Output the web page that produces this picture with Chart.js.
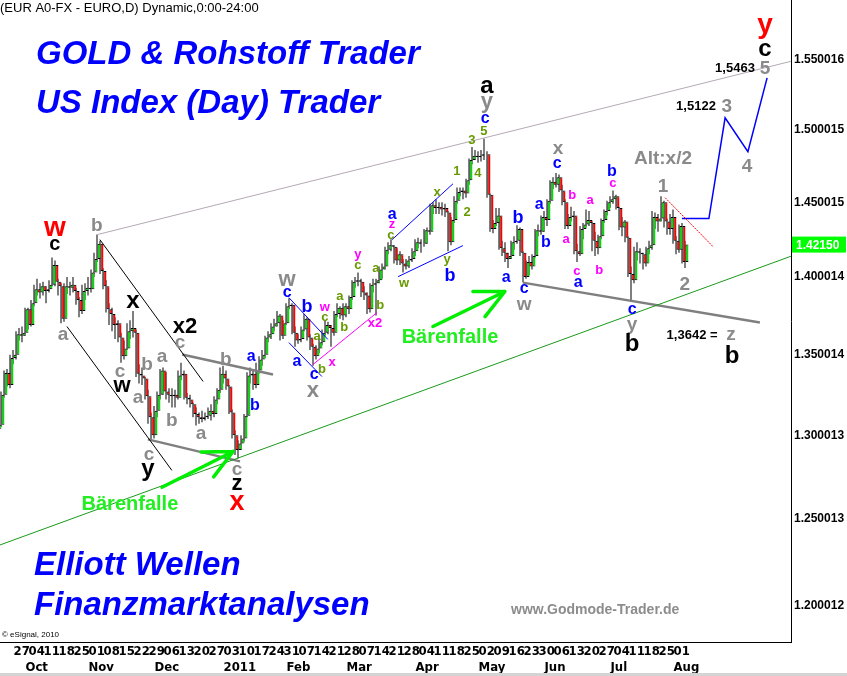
<!DOCTYPE html>
<html>
<head>
<meta charset="utf-8">
<script src="https://cdn.jsdelivr.net/npm/chart.js@4.4.0/dist/chart.umd.min.js"></script>
<style>
  html, body { margin: 0; padding: 0; background: #fff; overflow: hidden; }
</style>
</head>
<body>
<canvas id="chart" width="847" height="676"></canvas>
<script>
// EUR/USD daily candles, 20 Sep 2010 .. 5 Aug 2011 (bar index -5 .. 224, 0 = 27 Sep 2010)
const opens = [
  1.3040,1.3065,1.3250,1.3385,1.3310,1.3480,1.3500,1.3630,1.3620,1.3640,
  1.3790,1.3690,1.3830,1.3920,1.3900,1.3940,1.3910,1.3920,1.3950,1.4080,
  1.3970,1.3940,1.3730,1.3940,1.3930,1.3950,1.3910,1.3850,1.3780,1.3910,
  1.3930,1.3920,1.4030,1.4120,1.4220,1.4040,1.3940,1.3790,1.3760,1.3690,
  1.3700,1.3610,1.3490,1.3540,1.3650,1.3670,1.3640,1.3380,1.3370,1.3350,
  1.3240,1.3110,1.3000,1.3150,1.3250,1.3400,1.3270,1.3250,1.3240,1.3250,
  1.3230,1.3370,1.3380,1.3230,1.3220,1.3190,1.3130,1.3110,1.3100,1.3110,
  1.3120,1.3150,1.3130,1.3220,1.3280,1.3380,1.3350,1.3300,1.3140,1.3000,
  1.2910,1.2950,1.2980,1.3120,1.3370,1.3380,1.3310,1.3400,1.3470,1.3500,
  1.3610,1.3630,1.3680,1.3700,1.3750,1.3620,1.3700,1.3810,1.3820,1.3640,
  1.3590,1.3600,1.3660,1.3730,1.3610,1.3550,1.3490,1.3540,1.3580,1.3640,
  1.3690,1.3670,1.3640,1.3760,1.3800,1.3750,1.3810,1.3790,1.3870,1.3970,
  1.3980,1.3970,1.3900,1.3880,1.3790,1.3950,1.3960,1.3980,1.4050,1.4070,
  1.4180,1.4210,1.4200,1.4110,1.4150,1.4090,1.4070,1.4110,1.4120,1.4170,
  1.4230,1.4220,1.4220,1.4310,1.4300,1.4480,1.4460,1.4470,1.4450,1.4460,
  1.4430,1.4230,1.4380,1.4510,1.4570,1.4580,1.4560,1.4650,1.4790,1.4820,
  1.4810,1.4820,1.4830,1.4830,1.4550,1.4320,1.4360,1.4410,1.4190,1.4160,
  1.4120,1.4140,1.4230,1.4240,1.4320,1.4160,1.4000,1.4100,1.4070,1.4140,
  1.4310,1.4300,1.4400,1.4380,1.4510,1.4640,1.4620,1.4670,1.4580,1.4500,
  1.4340,1.4400,1.4410,1.4170,1.4150,1.4320,1.4350,1.4380,1.4360,1.4240,
  1.4190,1.4270,1.4380,1.4440,1.4500,1.4520,1.4540,1.4460,1.4330,1.4370,
  1.4260,1.4020,1.3980,1.4170,1.4160,1.4150,1.4090,1.4190,1.4210,1.4400,
  1.4370,1.4390,1.4500,1.4370,1.4320,1.4400,1.4240,1.4180,1.4340,1.4100
];
const highs = [
  1.3090,1.3270,1.3400,1.3410,1.3500,1.3530,1.3650,1.3670,1.3680,1.3800,
  1.3800,1.3850,1.3950,1.3990,1.3960,1.3970,1.3940,1.3980,1.4130,1.4110,
  1.3990,1.3960,1.3960,1.4000,1.3970,1.4000,1.3930,1.3870,1.3950,1.3960,
  1.4000,1.4050,1.4160,1.4282,1.4240,1.4060,1.3980,1.3830,1.3800,1.3740,
  1.3720,1.3640,1.3590,1.3700,1.3720,1.3780,1.3660,1.3440,1.3420,1.3360,
  1.3280,1.3140,1.3180,1.3270,1.3410,1.3420,1.3390,1.3290,1.3290,1.3280,
  1.3400,1.3450,1.3400,1.3260,1.3250,1.3200,1.3170,1.3140,1.3150,1.3140,
  1.3170,1.3190,1.3240,1.3290,1.3420,1.3430,1.3400,1.3310,1.3160,1.3030,
  1.2970,1.3000,1.3130,1.3390,1.3420,1.3400,1.3450,1.3490,1.3530,1.3620,
  1.3650,1.3700,1.3730,1.3780,1.3760,1.3720,1.3830,1.3862,1.3830,1.3680,
  1.3630,1.3680,1.3760,1.3740,1.3630,1.3570,1.3560,1.3600,1.3660,1.3720,
  1.3710,1.3690,1.3780,1.3830,1.3810,1.3830,1.3830,1.3880,1.3980,1.4000,
  1.4030,1.3990,1.3940,1.3900,1.3960,1.3990,1.3990,1.4070,1.4090,1.4200,
  1.4230,1.4250,1.4210,1.4190,1.4170,1.4120,1.4120,1.4140,1.4190,1.4250,
  1.4260,1.4250,1.4320,1.4330,1.4490,1.4500,1.4520,1.4500,1.4500,1.4490,
  1.4440,1.4400,1.4540,1.4600,1.4600,1.4600,1.4660,1.4800,1.4880,1.4860,
  1.4850,1.4860,1.4940,1.4850,1.4560,1.4380,1.4460,1.4460,1.4240,1.4230,
  1.4160,1.4240,1.4270,1.4345,1.4330,1.4170,1.4110,1.4140,1.4150,1.4320,
  1.4350,1.4410,1.4440,1.4520,1.4650,1.4670,1.4700,1.4690,1.4620,1.4520,
  1.4420,1.4470,1.4440,1.4220,1.4340,1.4360,1.4450,1.4440,1.4370,1.4300,
  1.4280,1.4390,1.4450,1.4510,1.4540,1.4580,1.4550,1.4470,1.4400,1.4380,
  1.4270,1.4070,1.4200,1.4230,1.4190,1.4160,1.4200,1.4240,1.4440,1.4430,
  1.4420,1.4540,1.4510,1.4390,1.4420,1.4450,1.4270,1.4350,1.4360,1.4240
];
const lows = [
  1.3000,1.3050,1.3230,1.3300,1.3290,1.3440,1.3470,1.3590,1.3580,1.3620,
  1.3660,1.3680,1.3810,1.3880,1.3860,1.3880,1.3830,1.3900,1.3940,1.3940,
  1.3880,1.3700,1.3710,1.3890,1.3880,1.3900,1.3820,1.3740,1.3760,1.3850,
  1.3880,1.3900,1.4000,1.4100,1.4020,1.3920,1.3770,1.3690,1.3650,1.3600,
  1.3580,1.3450,1.3470,1.3530,1.3600,1.3610,1.3360,1.3320,1.3310,1.3220,
  1.3070,1.2969,1.2980,1.3110,1.3220,1.3250,1.3220,1.3200,1.3170,1.3170,
  1.3220,1.3340,1.3220,1.3190,1.3170,1.3110,1.3060,1.3070,1.3080,1.3090,
  1.3100,1.3090,1.3110,1.3190,1.3260,1.3320,1.3280,1.3130,1.2980,1.2880,
  1.2860,1.2910,1.2960,1.3110,1.3320,1.3280,1.3290,1.3380,1.3430,1.3480,
  1.3580,1.3600,1.3650,1.3680,1.3590,1.3600,1.3690,1.3790,1.3630,1.3550,
  1.3570,1.3580,1.3650,1.3590,1.3530,1.3430,1.3470,1.3510,1.3560,1.3620,
  1.3630,1.3550,1.3620,1.3740,1.3730,1.3720,1.3740,1.3760,1.3850,1.3930,
  1.3940,1.3870,1.3850,1.3760,1.3770,1.3900,1.3750,1.3960,1.3990,1.4050,
  1.4150,1.4170,1.4090,1.4080,1.4080,1.4030,1.4050,1.4060,1.4100,1.4140,
  1.4190,1.4160,1.4200,1.4220,1.4280,1.4420,1.4420,1.4420,1.4410,1.4400,
  1.4170,1.4210,1.4360,1.4490,1.4540,1.4520,1.4530,1.4620,1.4760,1.4790,
  1.4770,1.4780,1.4790,1.4530,1.4300,1.4290,1.4340,1.4180,1.4140,1.4100,
  1.4060,1.4120,1.4180,1.4220,1.4140,1.3967,1.3990,1.4010,1.4050,1.4130,
  1.4270,1.4280,1.4300,1.4340,1.4490,1.4590,1.4600,1.4570,1.4480,1.4320,
  1.4320,1.4370,1.4150,1.4100,1.4140,1.4250,1.4330,1.4340,1.4170,1.4140,
  1.4150,1.4250,1.4360,1.4410,1.4460,1.4490,1.4450,1.4310,1.4270,1.4230,
  1.4000,1.3837,1.3960,1.4110,1.4090,1.4050,1.4070,1.4150,1.4180,1.4320,
  1.4300,1.4370,1.4330,1.4280,1.4280,1.4220,1.4150,1.4160,1.4090,1.4060
];
const closes = [
  1.3065,1.3250,1.3385,1.3310,1.3480,1.3500,1.3630,1.3620,1.3640,1.3790,
  1.3690,1.3830,1.3920,1.3900,1.3940,1.3910,1.3920,1.3950,1.4080,1.3970,
  1.3940,1.3730,1.3940,1.3930,1.3950,1.3910,1.3850,1.3780,1.3910,1.3930,
  1.3920,1.4030,1.4120,1.4220,1.4040,1.3940,1.3790,1.3760,1.3690,1.3700,
  1.3610,1.3490,1.3540,1.3650,1.3670,1.3640,1.3380,1.3370,1.3350,1.3240,
  1.3110,1.3000,1.3150,1.3250,1.3400,1.3270,1.3250,1.3240,1.3250,1.3230,
  1.3370,1.3380,1.3230,1.3220,1.3190,1.3130,1.3110,1.3100,1.3110,1.3120,
  1.3150,1.3130,1.3220,1.3280,1.3380,1.3350,1.3300,1.3140,1.3000,1.2910,
  1.2950,1.2980,1.3120,1.3370,1.3380,1.3310,1.3400,1.3470,1.3500,1.3610,
  1.3630,1.3680,1.3700,1.3750,1.3620,1.3700,1.3810,1.3820,1.3640,1.3590,
  1.3600,1.3660,1.3730,1.3610,1.3550,1.3490,1.3540,1.3580,1.3640,1.3690,
  1.3670,1.3640,1.3760,1.3800,1.3750,1.3810,1.3790,1.3870,1.3970,1.3980,
  1.3970,1.3900,1.3880,1.3790,1.3950,1.3960,1.3980,1.4050,1.4070,1.4180,
  1.4210,1.4200,1.4110,1.4150,1.4090,1.4070,1.4110,1.4120,1.4170,1.4230,
  1.4220,1.4220,1.4310,1.4300,1.4480,1.4460,1.4470,1.4450,1.4460,1.4430,
  1.4230,1.4380,1.4510,1.4570,1.4580,1.4560,1.4650,1.4790,1.4820,1.4810,
  1.4820,1.4830,1.4830,1.4550,1.4320,1.4360,1.4410,1.4190,1.4160,1.4120,
  1.4140,1.4230,1.4240,1.4320,1.4160,1.4000,1.4100,1.4070,1.4140,1.4310,
  1.4300,1.4400,1.4380,1.4510,1.4640,1.4620,1.4670,1.4580,1.4500,1.4340,
  1.4400,1.4410,1.4170,1.4150,1.4320,1.4350,1.4380,1.4360,1.4240,1.4190,
  1.4270,1.4380,1.4440,1.4500,1.4520,1.4540,1.4460,1.4330,1.4370,1.4260,
  1.4020,1.3980,1.4170,1.4160,1.4150,1.4090,1.4190,1.4210,1.4400,1.4370,
  1.4390,1.4500,1.4370,1.4320,1.4400,1.4240,1.4180,1.4340,1.4100,1.4215
];
const firstBar = -5;                 // 20 Sep 2010
const firstDate = new Date(2010, 8, 20);

// axis labels
const weekLabels = ['27','04','11','18','25','01','08','15','22','29','06','13','20','27','03',
  '10','17','24','31','07','14','21','28','07','14','21','28','04','11','18','25','02','09',
  '16','23','30','06','13','20','27','04','11','18','25','01'];
const monthLabels = ['Oct','Nov','Dec','2011','Feb','Mar','Apr','May','Jun','Jul','Aug'];
const priceTicks = [1.550016, 1.500015, 1.450015, 1.400014, 1.350014, 1.300013, 1.250013, 1.200012];
const priceTickLabels = ['1.550016','1.500015','1.450015','1.400014','1.350014','1.300013','1.250013','1.200012'];

// trading days -> bar index
const days = [];
let d = new Date(firstDate);
while (days.length < closes.length) {
  if (d.getDay() !== 0 && d.getDay() !== 6) days.push(new Date(d));
  d.setDate(d.getDate() + 1);
}
const weekTicks = [];
const monthTicks = [];
days.forEach((day, k) => {
  const idx = k + firstBar;
  if (idx >= 0 && day.getDay() === 1) weekTicks.push(idx);
  if (k > 0 && day.getMonth() !== days[k - 1].getMonth()) monthTicks.push(idx);
});

// lines drawn on the chart [bar index, price]
const trendLines = [
  { pts: [[28, 1.4282], [259.2, 1.549]], color: '#b4a8b4', width: 1 },
  { pts: [[-4.5, 1.2349], [259.2, 1.4138]], color: '#1a9a1a', width: 1 },
  { pts: [[28.8, 1.4248], [63.2, 1.3332]], color: '#000000', width: 1 },
  { pts: [[17.8, 1.3680], [52.8, 1.2788]], color: '#000000', width: 1 },
  { pts: [[44.8, 1.2975], [75.5, 1.2842]], color: '#7f7f7f', width: 2.5 },
  { pts: [[56.2, 1.3501], [86.5, 1.3376]], color: '#7f7f7f', width: 2.5 },
  { pts: [[169.8, 1.3964], [248.8, 1.3705]], color: '#7f7f7f', width: 2.5 },
  { pts: [[91.8, 1.3866], [104.8, 1.3597]], color: '#0000ff', width: 1 },
  { pts: [[91.8, 1.3577], [102.8, 1.3363]], color: '#0000ff', width: 1 },
  { pts: [[126.2, 1.4248], [146.5, 1.4626]], color: '#0000ff', width: 1 },
  { pts: [[128.2, 1.4003], [149.8, 1.4208]], color: '#0000ff', width: 1 },
  { pts: [[99.8, 1.3438], [121.2, 1.3770]], color: '#ff00ff', width: 1 },
  { pts: [[217.2, 1.4531], [233.2, 1.4201]], color: '#ff0000', width: 1, dash: [2, 1] },
  { pts: [[222.8, 1.4389], [231.8, 1.4389], [237.2, 1.5085], [244.8, 1.4847], [251.2, 1.537]], color: '#0000ff', width: 1.5 }
];
const arrows = [
  [[49.5, 1.2687], [73.2, 1.2902]],
  [[139.8, 1.3680], [163.8, 1.3906]]
];

// wave count text [text, bar index, price, style]
const waveLabels = [
  ['w', 13.8, 1.4322, 'red28'], ['c', 13.8, 1.4215, 'blk20'], ['b', 27.8, 1.4342, 'gry19'],
  ['a', 16.5, 1.3629, 'gry19'], ['x', 39.8, 1.3841, 'blk24'], ['x2', 57.2, 1.3674, 'blk22'],
  ['c', 55.5, 1.3578, 'gry19'], ['a', 49.5, 1.3489, 'gry19'], ['b', 70.8, 1.3470, 'gry19'],
  ['a', 79.2, 1.3489, 'blu16'], ['c', 35.5, 1.3395, 'gry19'], ['b', 44.5, 1.3438, 'gry19'],
  ['w', 36.2, 1.3301, 'blk22'], ['a', 41.5, 1.3232, 'gry19'], ['b', 52.8, 1.3091, 'gry19'],
  ['a', 62.5, 1.3012, 'gry19'], ['b', 80.5, 1.3183, 'blu16'], ['c', 45.2, 1.2884, 'gry19'],
  ['y', 44.8, 1.2794, 'blk24'], ['c', 74.5, 1.2794, 'gry19'], ['z', 74.5, 1.2705, 'blk22'],
  ['x', 74.5, 1.2598, 'red27'], ['Bärenfalle', 38.8, 1.2586, 'grn20'],
  ['w', 91.2, 1.3984, 'gry22'], ['c', 91.2, 1.3899, 'blu16'], ['b', 97.8, 1.3802, 'blu17'],
  ['w', 103.8, 1.3802, 'mag13'], ['c', 103.8, 1.3738, 'olv13'], ['a', 101.2, 1.3616, 'olv13'],
  ['a', 108.8, 1.3873, 'olv13'], ['b', 110.2, 1.3674, 'olv13'], ['a', 120.8, 1.4057, 'olv13'],
  ['b', 122.2, 1.3815, 'olv13'], ['a', 94.5, 1.3457, 'blu16'], ['c', 100.2, 1.3376, 'blu16'],
  ['b', 102.8, 1.3407, 'olv13'], ['x', 99.8, 1.3276, 'gry22'], ['x', 106.2, 1.3451, 'mag13'],
  ['x2', 120.5, 1.3699, 'mag13'], ['y', 114.8, 1.4149, 'mag13'], ['c', 114.8, 1.4076, 'olv13'],
  ['a', 126.2, 1.4416, 'blu16'], ['z', 126.2, 1.4348, 'mag13'], ['c', 125.8, 1.4275, 'olv13'],
  ['w', 130.2, 1.3958, 'olv13'], ['x', 141.2, 1.4565, 'olv13'], ['y', 144.5, 1.4116, 'olv13'],
  ['b', 145.5, 1.4004, 'blu17'], ['1', 147.8, 1.4709, 'olv13'], ['2', 151.2, 1.4429, 'olv13'],
  ['3', 152.8, 1.4923, 'olv13'], ['4', 154.8, 1.4695, 'olv13'], ['5', 156.8, 1.4986, 'olv13'],
  ['c', 157.2, 1.5078, 'blu16'], ['y', 157.8, 1.5199, 'gry22'], ['a', 157.8, 1.5306, 'blk24'],
  ['b', 168.2, 1.4395, 'blu17'], ['a', 164.2, 1.3997, 'blu16'], ['c', 170.2, 1.3925, 'blu16'],
  ['w', 170.2, 1.3821, 'gry19'], ['a', 175.2, 1.4483, 'blu16'], ['b', 177.5, 1.4228, 'blu16'],
  ['x', 181.5, 1.4868, 'gry19'], ['c', 181.2, 1.4764, 'blu16'], ['b', 186.2, 1.4544, 'mag13'],
  ['a', 184.2, 1.4248, 'mag13'], ['a', 192.2, 1.4510, 'mag13'], ['c', 187.8, 1.4037, 'mag13'],
  ['a', 188.2, 1.3964, 'blu16'], ['b', 195.2, 1.4043, 'mag13'], ['b', 199.5, 1.4709, 'blu16'],
  ['c', 199.8, 1.4626, 'mag13'], ['Alt:x/2', 216.5, 1.4799, 'gry19'], ['1', 216.5, 1.4606, 'gry19'],
  ['2', 223.8, 1.3951, 'gry19'], ['c', 206.2, 1.3789, 'blu16'], ['y', 206.2, 1.3693, 'gry19'],
  ['b', 206.2, 1.3565, 'blk24'], ['1,3642 =', 226.2, 1.3623, 'num13'], ['z', 239.2, 1.3629, 'gry19'],
  ['b', 239.5, 1.3489, 'blk24'], ['1,5122', 227.5, 1.5163, 'num13'], ['3', 237.8, 1.5163, 'gry19'],
  ['4', 244.5, 1.4743, 'gry19'], ['1,5463', 240.5, 1.5435, 'num13'], ['5', 250.5, 1.5435, 'gry19'],
  ['c', 250.5, 1.5573, 'blk24'], ['y', 250.5, 1.5756, 'red28'], ['Bärenfalle', 145.5, 1.3610, 'grn20']
];

const FONT = '"Liberation Sans", Arial, sans-serif';
const NARROW = '"Liberation Sans Narrow", "DejaVu Sans Condensed", ' + FONT;
const labelStyles = {
  red28: ['bold 28px ' + FONT, '#ff0000'],
  red27: ['bold 27px ' + FONT, '#ff0000'],
  blk24: ['bold 24px ' + FONT, '#000000'],
  blk22: ['bold 22px ' + FONT, '#000000'],
  blk20: ['bold 20px ' + FONT, '#000000'],
  gry19: ['bold 19px ' + FONT, '#8a8a8a'],
  gry22: ['bold 22px ' + FONT, '#8a8a8a'],
  blu16: ['bold 16px ' + FONT, '#0000ff'],
  blu17: ['bold 18px ' + FONT, '#0000ff'],
  olv13: ['bold 13px ' + FONT, '#679a00'],
  mag13: ['bold 13px ' + FONT, '#ff00ff'],
  num13: ['bold 13px ' + FONT, '#000000'],
  grn20: ['bold 20px ' + FONT, '#22ee22']
};

const xMin = -4.5;
const xMax = -4.5 + 791 / 3;
const yMin = 1.1805;
const yMax = 1.5941;

const wickData = closes.map((c, k) => ({ x: k + firstBar, y: [lows[k], highs[k]] }));
const bodyData = closes.map((c, k) => ({ x: k + firstBar, y: [opens[k], c] }));
const bodyColors = closes.map((c, k) => c >= opens[k] ? '#00e000' : '#ff0000');

const lineSets = trendLines.map(l => ({
  type: 'line',
  data: l.pts.map(p => ({ x: p[0], y: p[1] })),
  borderColor: l.color,
  borderWidth: l.width,
  borderDash: l.dash || [],
  pointRadius: 0,
  fill: false,
  tension: 0,
  xAxisID: 'x',
  yAxisID: 'y',
  order: 0
}));

const notes = {
  id: 'notes',
  afterDatasetsDraw(chart) {
    const { ctx, scales: { x, y } } = chart;
    ctx.save();
    // green arrows
    ctx.strokeStyle = '#00ee00';
    ctx.lineWidth = 3.5;
    ctx.lineCap = 'round';
    arrows.forEach(a => {
      const x1 = x.getPixelForValue(a[0][0]), y1 = y.getPixelForValue(a[0][1]);
      const x2 = x.getPixelForValue(a[1][0]), y2 = y.getPixelForValue(a[1][1]);
      const ang = Math.atan2(y2 - y1, x2 - x1);
      ctx.beginPath();
      ctx.moveTo(x1, y1);
      ctx.lineTo(x2, y2);
      [ang - 0.45, ang + 0.45].forEach(b => {
        ctx.moveTo(x2, y2);
        ctx.lineTo(x2 - 32 * Math.cos(b), y2 - 32 * Math.sin(b));
      });
      ctx.stroke();
    });
    // wave labels
    ctx.textAlign = 'center';
    ctx.textBaseline = 'middle';
    waveLabels.forEach(([t, i, p, s]) => {
      ctx.font = labelStyles[s][0];
      ctx.fillStyle = labelStyles[s][1];
      ctx.fillText(t, x.getPixelForValue(i), y.getPixelForValue(p));
    });
    // header and watermark texts
    ctx.textAlign = 'left';
    ctx.textBaseline = 'alphabetic';
    ctx.fillStyle = '#000';
    ctx.font = '13px ' + FONT;
    ctx.fillText('(EUR A0-FX - EURO,D) Dynamic,0:00-24:00', 0, 12);
    ctx.fillStyle = '#0000ff';
    ctx.font = 'italic bold 33px ' + FONT;
    ctx.fillText('GOLD & Rohstoff Trader', 36, 64);
    ctx.fillText('US Index (Day) Trader', 36, 113);
    ctx.fillText('Elliott Wellen', 34, 575);
    ctx.fillText('Finanzmarktanalysen', 34, 615);
    ctx.fillStyle = '#8c8c8c';
    ctx.font = 'bold 14px ' + FONT;
    ctx.fillText('www.Godmode-Trader.de', 511, 614);
    ctx.fillStyle = '#000';
    ctx.font = '8px ' + FONT;
    ctx.fillText('© eSignal, 2010', 2, 637);
    ctx.restore();
  },
  afterDraw(chart) {
    const { ctx, chartArea, scales: { y } } = chart;
    const last = closes[closes.length - 1];
    const py = y.getPixelForValue(last);
    ctx.save();
    ctx.fillStyle = '#00ff00';
    ctx.fillRect(chartArea.right + 1, py - 8, 54, 16);
    ctx.fillStyle = '#ffffff';
    ctx.font = 'bold 12px ' + FONT;
    ctx.textAlign = 'left';
    ctx.textBaseline = 'middle';
    ctx.fillText(last.toFixed(5), chartArea.right + 5, py + 1);
    ctx.fillStyle = '#d4d4d4';
    ctx.fillRect(0, 673, 847, 3);
    ctx.restore();
  }
};

Chart.defaults.font.family = FONT;

new Chart(document.getElementById('chart'), {
  type: 'bar',
  data: {
    datasets: [
      {
        data: wickData,
        xAxisID: 'xw',
        yAxisID: 'y',
        backgroundColor: '#000000',
        barThickness: 1,
        borderWidth: 0,
        inflateAmount: 0,
        order: 3
      },
      {
        data: bodyData,
        xAxisID: 'x',
        yAxisID: 'y',
        backgroundColor: bodyColors,
        borderColor: '#000000',
        borderWidth: { left: 1, right: 0, top: 1, bottom: 1 },
        borderSkipped: false,
        barThickness: 3,
        inflateAmount: 0,
        order: 2
      },
      ...lineSets
    ]
  },
  options: {
    responsive: false,
    animation: false,
    events: [],
    layout: { padding: 0 },
    plugins: { legend: { display: false }, tooltip: { enabled: false } },
    scales: {
      x: {
        type: 'linear', position: 'bottom', weight: 0,
        min: xMin, max: xMax, offset: false,
        grid: { display: false, drawTicks: false },
        border: { display: true, color: '#000', width: 1 },
        afterBuildTicks: s => { s.ticks = weekTicks.map(v => ({ value: v })); },
        afterFit: s => { s.height = 17; s.paddingLeft = 0; s.paddingRight = 0; },
        ticks: {
          autoSkip: false, maxRotation: 0, minRotation: 0, align: 'start', padding: 2,
          color: '#000', font: { family: NARROW, size: 13, weight: 'bold' },
          callback: (v, i) => weekLabels[i]
        }
      },
      xm: {
        type: 'linear', position: 'bottom', weight: 1,
        min: xMin, max: xMax, offset: false,
        grid: { display: false, drawTicks: false },
        border: { display: false },
        afterBuildTicks: s => { s.ticks = monthTicks.map(v => ({ value: v })); },
        afterFit: s => { s.height = 17; s.paddingLeft = 0; s.paddingRight = 0; },
        ticks: {
          autoSkip: false, maxRotation: 0, minRotation: 0, align: 'start', padding: 1,
          color: '#000', font: { family: NARROW, size: 13, weight: 'bold' },
          callback: (v, i) => monthLabels[i]
        }
      },
      xw: { type: 'linear', display: false, min: xMin, max: xMax, offset: false },
      y: {
        type: 'logarithmic', position: 'right',
        min: yMin, max: yMax,
        grid: { display: false, drawTicks: false },
        border: { display: true, color: '#000', width: 1 },
        afterBuildTicks: s => { s.ticks = priceTicks.map(v => ({ value: v })); },
        afterFit: s => { s.width = 56; s.paddingTop = 0; s.paddingBottom = 0; },
        ticks: {
          padding: 3, color: '#000', font: { size: 12, weight: 'bold' },
          callback: (v, i) => priceTickLabels[i]
        }
      }
    }
  },
  plugins: [notes]
});
</script>
</body>
</html>
